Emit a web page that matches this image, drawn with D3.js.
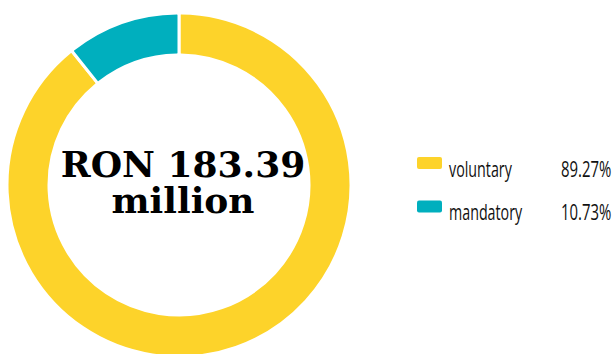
<!DOCTYPE html>
<html>
<head>
<meta charset="utf-8">
<script src="https://cdn.jsdelivr.net/npm/d3@7"></script>
<style>
  html, body { margin: 0; padding: 0; background: #fff; }
  svg { display: block; }
</style>
</head>
<body>
<svg id="chart" width="616" height="354"></svg>
<script>
// Fund split by contribution type
const categories = ["voluntary", "mandatory"];
const shares = [89.27, 10.73];
const shareLabels = ["89.27%", "10.73%"];
const colors = ["#FDD32A", "#00AFBE"];
const totalLines = ["RON 183.39", "million"];

const svg = d3.select("#chart");
const cx = 179, cy = 185, outerR = 172, innerR = 130;

const color = d3.scaleOrdinal().domain(categories).range(colors);

const data = categories.map((c, i) => ({ name: c, value: shares[i], label: shareLabels[i] }));

const pie = d3.pie().sort(null).value(d => d.value);
const arc = d3.arc().innerRadius(innerR).outerRadius(outerR).cornerRadius(2);

const g = svg.append("g").attr("transform", `translate(${cx},${cy})`);
g.selectAll("path")
  .data(pie(data))
  .join("path")
  .attr("d", arc)
  .attr("fill", d => color(d.data.name))
  .attr("stroke", "#fff")
  .attr("stroke-width", 3);

// Total in the middle of the ring, two lines in one text block
const total = g.append("text")
  .attr("class", "total")
  .attr("text-anchor", "middle")
  .attr("font-family", "'DejaVu Serif', serif")
  .attr("font-weight", "bold")
  .attr("font-size", 36)
  .attr("fill", "#000");

total.selectAll("tspan")
  .data(totalLines)
  .join("tspan")
  .attr("x", 4)
  .attr("y", (d, i) => -8 + i * 36)
  .text(d => d);

// Legend (condensed lettering via horizontal scale)
const legend = svg.append("g").attr("transform", "translate(417,157)");
const row = legend.selectAll("g.row")
  .data(data)
  .join("g")
  .attr("class", "row")
  .attr("transform", (d, i) => `translate(0,${i * 43.5})`);

row.append("rect")
  .attr("width", 25).attr("height", 12).attr("rx", 2)
  .attr("fill", d => color(d.name));

const labelFont = "'Open Sans', 'DejaVu Sans', sans-serif";

row.append("text")
  .attr("transform", "translate(32,19.5) scale(0.68,1)")
  .attr("font-family", labelFont)
  .attr("font-size", 21)
  .attr("font-weight", 500)
  .attr("fill", "#111")
  .text(d => d.name);

row.append("text")
  .attr("transform", "translate(144,19.5) scale(0.71,1)")
  .attr("font-family", labelFont)
  .attr("font-size", 21)
  .attr("font-weight", 500)
  .attr("fill", "#111")
  .text(d => d.label);
</script>
</body>
</html>
